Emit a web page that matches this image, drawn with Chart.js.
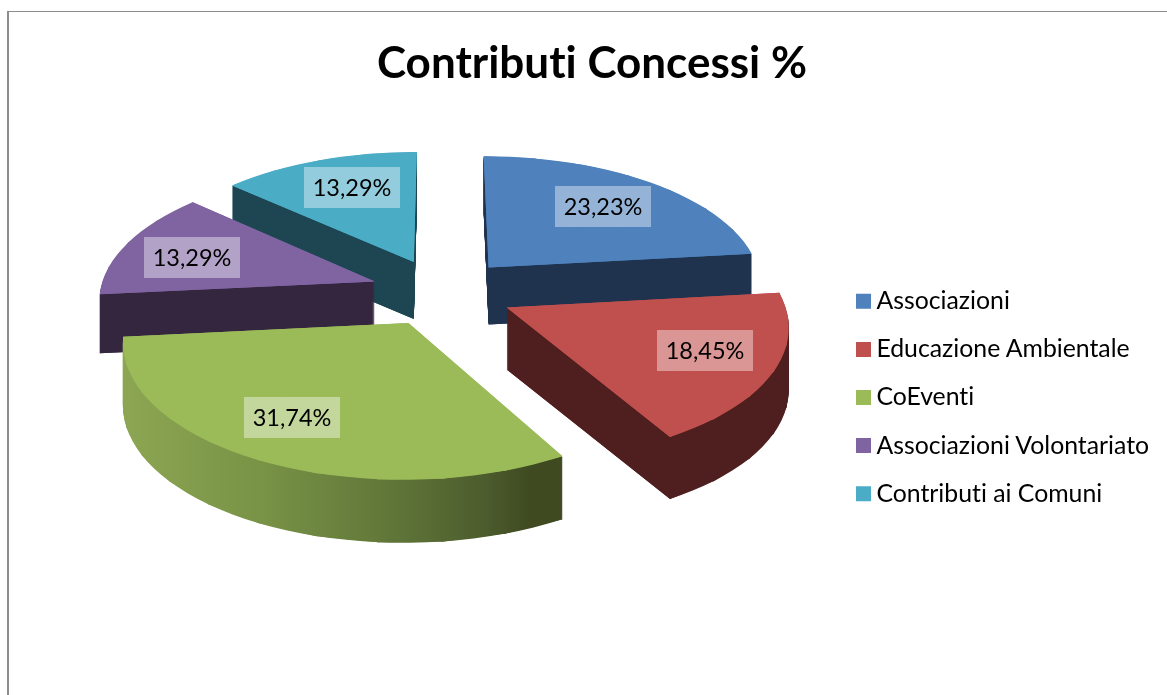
<!DOCTYPE html>
<html lang="it">
<head>
<meta charset="utf-8">
<title>Contributi Concessi %</title>
<script src="https://cdn.jsdelivr.net/npm/chart.js@4"></script>
<style>
  html, body { margin: 0; padding: 0; background: #fff; overflow: hidden; }
  #frame { position: absolute; left: 7px; top: 11px; right: -4px; bottom: -4px;
           border-left: 2px solid #8c8c8c; border-top: 1px solid #8c8c8c; }
  #chart { position: absolute; left: 0; top: 0; }
</style>
</head>
<body>
<div id="frame"></div>
<canvas id="chart" width="1167" height="695"></canvas>
<script>
// Chart content
const chartTitle = 'Contributi Concessi %';
const categories = ['Associazioni', 'Educazione Ambientale', 'CoEventi', 'Associazioni Volontariato', 'Contributi ai Comuni'];
const shares = [23.23, 18.45, 31.74, 13.29, 13.29];

// Slice colours: top faces and side walls
const topColors = ['#4f81bd', '#c0504d', '#9bbb59', '#8064a2', '#4bacc6'];
const wallColors = ['#1f334f', '#4e1f1e', null, '#35263f', '#1d4552'];
const rimStops = [[0, '#8ca653'], [0.3, '#7a9447'], [0.62, '#5f7538'], [0.82, '#4c5c2d'], [0.92, '#3f4a21'], [1, '#3f4a21']];
const rimSpan = [122, 565];

// Tilted, exploded pie geometry
const view = { cx: 442, cy: 292, a: 275, b: 130, perspective: 0.12, explode: 0.26, depth: 60, labelAt: 0.72 };
const labelNudges = [[-4, 1], [9, -3], [-13, -2], [-3, 3], [9, 0]];
const wedgeStep = Math.PI / 15;
const wedgeOverlap = 0.008;

function project(u, v) {
  const w = 1 - view.perspective * v;
  return [view.cx + view.a * u / w, view.cy + view.b * v / w];
}

function sliceInfo(arc) {
  const mid = (arc.startAngle + arc.endAngle) / 2;
  const ex = view.explode * Math.cos(mid), ey = view.explode * Math.sin(mid);
  return { mid, ex, ey, w: 1 - view.perspective * ey };
}

// Affine map that places one flat wedge of an arc onto its tilted position
function wedgeTransform(arc, info, start, end) {
  const { ex, ey } = info;
  const cs = Math.cos(start), ss = Math.sin(start);
  const ce = Math.cos(end), se = Math.sin(end);
  const p0 = project(ex, ey), p1 = project(ex + cs, ey + ss), p2 = project(ex + ce, ey + se);
  const r = arc.outerRadius;
  const det = r * r * (cs * se - ce * ss);
  const v1 = [p1[0] - p0[0], p1[1] - p0[1]], v2 = [p2[0] - p0[0], p2[1] - p0[1]];
  const a = (v1[0] * r * se - v2[0] * r * ss) / det;
  const c = (-v1[0] * r * ce + v2[0] * r * cs) / det;
  const b = (v1[1] * r * se - v2[1] * r * ss) / det;
  const d = (-v1[1] * r * ce + v2[1] * r * cs) / det;
  const e = p0[0] - a * arc.x - c * arc.y;
  const f = p0[1] - b * arc.x - d * arc.y;
  return { a, b, c, d, e, f };
}

// Short wedges follow the perspective curve of the rim closely
function wedgesOf(arc, info) {
  const count = Math.ceil((arc.endAngle - arc.startAngle) / wedgeStep);
  const step = (arc.endAngle - arc.startAngle) / count;
  const list = [];
  for (let k = 0; k < count; k++) {
    const start = arc.startAngle + k * step, end = start + step;
    list.push({
      start,
      end: k < count - 1 ? end + wedgeOverlap : end,
      cornerA: project(info.ex + Math.cos(start), info.ey + Math.sin(start)),
      cornerB: project(info.ex + Math.cos(end), info.ey + Math.sin(end)),
      t: wedgeTransform(arc, info, start, end)
    });
  }
  return list;
}

// Solid fan under the wedges, so that their shared edges leave no hairlines
function paintFan(ctx, info, wedges, dy, fill) {
  const apex = project(info.ex, info.ey);
  ctx.save();
  ctx.fillStyle = fill;
  ctx.beginPath();
  ctx.moveTo(apex[0], apex[1] + dy);
  wedges.forEach((w, k) => {
    if (k === 0) ctx.lineTo(w.cornerA[0], w.cornerA[1] + dy);
    ctx.lineTo(w.cornerB[0], w.cornerB[1] + dy);
  });
  ctx.closePath();
  ctx.fill();
  ctx.restore();
}

function paintWedge(ctx, arc, wedge, dy, fill) {
  const t = wedge.t;
  arc.startAngle = wedge.start;
  arc.endAngle = wedge.end;
  arc.circumference = wedge.end - wedge.start;
  arc.options = Object.assign({}, arc.options, { backgroundColor: fill, borderWidth: 0 });
  ctx.save();
  ctx.translate(0, dy);
  ctx.transform(t.a, t.b, t.c, t.d, t.e, t.f);
  arc.draw(ctx);
  ctx.restore();
}

function paintFace(ctx, arc, info, wedges, dy, fill) {
  paintFan(ctx, info, wedges, dy, fill);
  wedges.forEach(wedge => paintWedge(ctx, arc, wedge, dy, fill));
}

// The side wall is stacked as a silhouette on its own layer, then tinted in one pass
function paintWall(chart, arc, info, wedges, i) {
  const layer = document.createElement('canvas');
  layer.width = chart.width;
  layer.height = chart.height;
  const lc = layer.getContext('2d');
  for (let dy = Math.round(view.depth / (info.w * info.w)); dy > 0; dy--) {
    paintFace(lc, arc, info, wedges, dy, '#000');
  }
  lc.globalCompositeOperation = 'source-in';
  if (wallColors[i]) {
    lc.fillStyle = wallColors[i];
  } else {
    const grad = lc.createLinearGradient(rimSpan[0], 0, rimSpan[1], 0);
    rimStops.forEach(s => grad.addColorStop(s[0], s[1]));
    lc.fillStyle = grad;
  }
  lc.fillRect(0, 0, layer.width, layer.height);
  chart.ctx.drawImage(layer, 0, 0);
}

const pie3d = {
  id: 'pie3d',
  afterLayout(chart) {
    // Centre the legend column on the slices' lower half
    const box = chart.legend;
    const shift = 53;
    box.top += shift;
    box.bottom += shift;
  },
  beforeDraw(chart) {
    // Plain letter pairs, no joined "ti"
    chart.ctx.textRendering = 'optimizeSpeed';
    chart.ctx.fontKerning = 'normal';
  },
  beforeDatasetsDraw(chart) {
    const ctx = chart.ctx;
    const meta = chart.getDatasetMeta(0);
    const order = meta.data.map((arc, i) => ({ arc, i, info: sliceInfo(arc) }))
      .sort((p, q) => Math.sin(p.info.mid) - Math.sin(q.info.mid));
    order.forEach(({ arc, i, info }) => {
      const saved = { s: arc.startAngle, e: arc.endAngle, c: arc.circumference, o: arc.options };
      const wedges = wedgesOf(arc, info);
      paintWall(chart, arc, info, wedges, i);
      paintFace(ctx, arc, info, wedges, 0, topColors[i]);
      arc.startAngle = saved.s;
      arc.endAngle = saved.e;
      arc.circumference = saved.c;
      arc.options = saved.o;
    });
    return false;
  },
  afterDraw(chart) {
    const ctx = chart.ctx;
    const meta = chart.getDatasetMeta(0);
    ctx.save();
    ctx.font = '23.5px Lato';
    ctx.textAlign = 'center';
    ctx.textBaseline = 'middle';
    meta.data.forEach((arc, i) => {
      const info = sliceInfo(arc);
      const p = project(info.ex + view.labelAt * Math.cos(info.mid), info.ey + view.labelAt * Math.sin(info.mid));
      const x = Math.round(p[0] + labelNudges[i][0]), y = Math.round(p[1] + labelNudges[i][1]);
      ctx.fillStyle = 'rgba(255,255,255,0.4)';
      ctx.fillRect(x - 48, y - 20, 96, 41);
      ctx.fillStyle = '#000';
      ctx.fillText(shares[i].toFixed(2).replace('.', ',') + '%', x, y + 1);
    });
    ctx.restore();
  }
};

new Chart(document.getElementById('chart'), {
  type: 'pie',
  data: {
    labels: categories,
    datasets: [{ data: shares, backgroundColor: topColors, borderWidth: 0 }]
  },
  plugins: [pie3d],
  options: {
    responsive: false,
    animation: false,
    layout: { padding: { left: 24, right: 7, top: 0, bottom: 6 } },
    plugins: {
      title: {
        display: true,
        text: chartTitle,
        color: '#000',
        font: { family: 'Lato', size: 44, weight: 'bold', lineHeight: 1.2 },
        padding: { top: 37, bottom: 18 }
      },
      legend: {
        position: 'right',
        labels: {
          color: '#000',
          font: { family: 'Lato', size: 24.8, lineHeight: 1.2 },
          usePointStyle: true,
          pointStyle: 'rect',
          boxWidth: 1,
          boxHeight: 15,
          padding: 23.3
        }
      },
      tooltip: { enabled: false }
    }
  }
});
</script>
</body>
</html>
